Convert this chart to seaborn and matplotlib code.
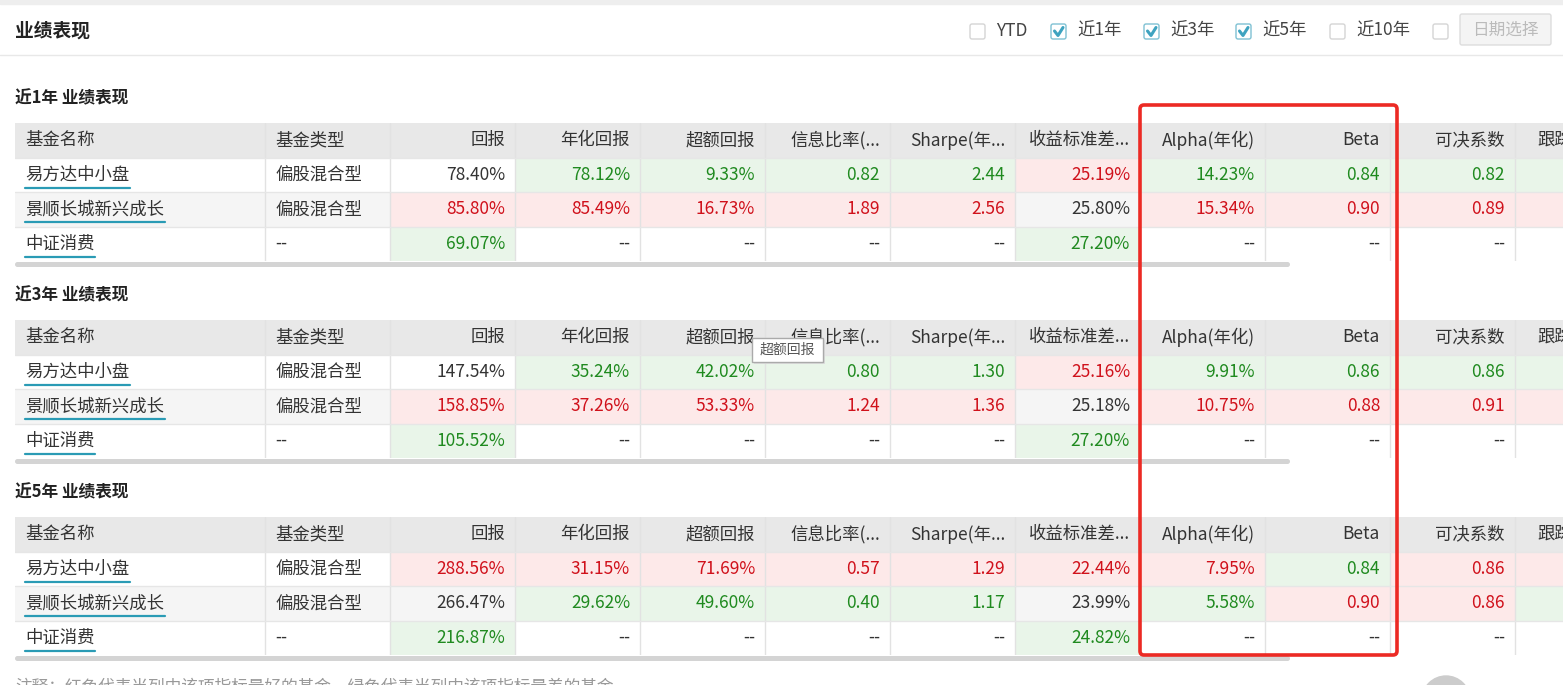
import numpy as np
import seaborn as sns
import matplotlib.pyplot as plt
from matplotlib.colors import ListedColormap
from matplotlib.patches import Rectangle, FancyBboxPatch

sns.set_theme(style="white")
plt.rcParams['font.family'] = ['Noto Sans CJK SC', 'DejaVu Sans']

# ---------------------------------------------------------------------------
# Data  (marks: g = green cell, r = red cell, n = neutral)
# ---------------------------------------------------------------------------
periods = ["近1年", "近3年", "近5年"]
fund_names = ["易方达中小盘", "景顺长城新兴成长", "中证消费"]
fund_types = ["偏股混合型", "偏股混合型", "--"]
columns = ["回报", "年化回报", "超额回报", "信息比率(...", "Sharpe(年...",
           "收益标准差...", "Alpha(年化)", "Beta", "可决系数", "跟踪误差"]

values_1y = [
    ["78.40%", "78.12%", "9.33%", "0.82", "2.44", "25.19%", "14.23%", "0.84", "0.82", ""],
    ["85.80%", "85.49%", "16.73%", "1.89", "2.56", "25.80%", "15.34%", "0.90", "0.89", ""],
    ["69.07%", "--", "--", "--", "--", "27.20%", "--", "--", "--", ""],
]
marks_1y = ["nggggrgggg", "rrrrrnrrrr", "gnnnngnnnn"]
values_3y = [
    ["147.54%", "35.24%", "42.02%", "0.80", "1.30", "25.16%", "9.91%", "0.86", "0.86", ""],
    ["158.85%", "37.26%", "53.33%", "1.24", "1.36", "25.18%", "10.75%", "0.88", "0.91", ""],
    ["105.52%", "--", "--", "--", "--", "27.20%", "--", "--", "--", ""],
]
marks_3y = ["nggggrgggg", "rrrrrnrrrr", "gnnnngnnnn"]
values_5y = [
    ["288.56%", "31.15%", "71.69%", "0.57", "1.29", "22.44%", "7.95%", "0.84", "0.86", ""],
    ["266.47%", "29.62%", "49.60%", "0.40", "1.17", "23.99%", "5.58%", "0.90", "0.86", ""],
    ["216.87%", "--", "--", "--", "--", "24.82%", "--", "--", "--", ""],
]
marks_5y = ["rrrrrrrgrr", "nggggngrrg", "gnnnngnnnn"]

tables = [(values_1y, marks_1y), (values_3y, marks_3y), (values_5y, marks_5y)]

checkboxes = [("YTD", False), ("近1年", True), ("近3年", True), ("近5年", True), ("近10年", False), ("", False)]

# ---------------------------------------------------------------------------
W, H = 1563, 685
fig = plt.figure(figsize=(W / 100, H / 100), dpi=100)
fig.patch.set_facecolor("white")

GREEN_BG, RED_BG, ROW2_BG, HEAD_BG = "#e9f5e9", "#fde9e9", "#f5f5f5", "#e8e8e8"
GREEN_TX, RED_TX, DARK_TX = "#1f8a1f", "#d0111b", "#333333"
cmap = ListedColormap(["white", ROW2_BG, GREEN_BG, RED_BG, HEAD_BG])
code = {"n": 0, "g": 2, "r": 3}

UNIT = 125
NUNITS = 13
table_tops = [123, 320, 517]
row_h = 34.5

for (vals, marks), top in zip(tables, table_tops):
    grid = np.zeros((4, NUNITS))
    grid[0, :] = 4
    for r in range(3):
        base = 1 if r == 1 else 0
        grid[r + 1, :3] = base
        for c in range(10):
            m = marks[r][c]
            grid[r + 1, 3 + c] = code[m] if m != "n" else base
    ax = fig.add_axes([15 / W, 1 - (top + 4 * row_h) / H, NUNITS * UNIT / W, 4 * row_h / H])
    sns.heatmap(grid, ax=ax, cmap=cmap, vmin=-0.5, vmax=4.5, cbar=False,
                xticklabels=False, yticklabels=False)
    # grid lines
    for b in [2, 3] + list(range(4, NUNITS)):
        ax.axvline(b, color="#e2e2e2", lw=1)
    for b in [1, 2, 3]:
        ax.axhline(b, color="#e6e6e6", lw=1)
    # header
    ax.text(0.08, 0.5, "基金名称", ha="left", va="center", fontsize=12.5, color=DARK_TX)
    ax.text(2.08, 0.5, "基金类型", ha="left", va="center", fontsize=12.5, color=DARK_TX)
    for c, name in enumerate(columns[:-1]):
        ax.text(4 + c - 0.08, 0.5, name, ha="right", va="center", fontsize=12.5, color=DARK_TX)
    ax.text(12.18, 0.5, columns[-1], ha="left", va="center", fontsize=12.5, color=DARK_TX)
    # rows
    for r in range(3):
        y = r + 1.5
        ax.text(0.08, y, fund_names[r], ha="left", va="center", fontsize=12.5, color=DARK_TX)
        ax.plot([0.08, 0.08 + len(fund_names[r]) * 17.5 / UNIT], [y + 0.38, y + 0.38],
                color="#2a9bb5", lw=1.6)
        ax.text(2.08, y, fund_types[r], ha="left", va="center", fontsize=12.5, color=DARK_TX)
        for c in range(9):
            m = marks[r][c]
            col = GREEN_TX if m == "g" else RED_TX if m == "r" else DARK_TX
            ax.text(4 + c - 0.08, y, vals[r][c], ha="right", va="center", fontsize=12.5, color=col)

# ---------------------------------------------------------------------------
# overlay
ov = fig.add_axes([0, 0, 1, 1], zorder=10)
ov.set_xlim(0, W)
ov.set_ylim(H, 0)
ov.axis("off")
ov.patch.set_alpha(0)

ov.add_patch(Rectangle((0, 0), W, 4, color="#eeeeee"))
ov.axhline(55, xmin=0, xmax=1, color="#e8e8e8", lw=1)
ov.text(15, 31, "业绩表现", fontsize=13.5, fontweight="bold", va="center", color="#222222")

xs = [970, 1051, 1144, 1236, 1330, 1433]
for (lab, chk), x in zip(checkboxes, xs):
    ov.add_patch(FancyBboxPatch((x, 24), 15, 15, boxstyle="round,pad=0,rounding_size=2",
                                fc="white", ec="#7fc1d3" if chk else "#d5d5d5", lw=1))
    if chk:
        ov.plot([x + 3.5, x + 7, x + 12], [31, 35.5, 27.5], color="#3ea3c0", lw=2.2)
    ov.text(x + 26, 31, lab, fontsize=12.5, va="center", color="#444444")
ov.add_patch(FancyBboxPatch((1460, 14), 91, 31, boxstyle="round,pad=0,rounding_size=2",
                            fc="#f4f4f4", ec="#dddddd", lw=1))
ov.text(1505, 30, "日期选择", fontsize=12, ha="center", va="center", color="#bbbbbb")

for p, top in zip(periods, table_tops):
    ov.text(15, top - 25, f"{p} 业绩表现", fontsize=12, fontweight="bold", va="center", color="#222222")
    ov.add_patch(FancyBboxPatch((15, top + 139), 1275, 5, boxstyle="round,pad=0,rounding_size=2.5",
                                fc="#d4d4d4", ec="none"))

# tooltip
ov.add_patch(Rectangle((754, 340), 71, 24, fc="#dddddd", ec="none"))
ov.add_patch(Rectangle((752, 338), 71, 24, fc="white", ec="#aaaaaa", lw=1))
ov.text(787, 350, "超额回报", fontsize=10, ha="center", va="center", color="#555555")

# highlight box
ov.add_patch(FancyBboxPatch((1140, 105), 257, 550, boxstyle="round,pad=0,rounding_size=4",
                            fc="none", ec="#ec2a24", lw=2.6))

ov.text(15, 688, "注释：红色代表当列中该项指标最好的基金，绿色代表当列中该项指标最差的基金",
        fontsize=12, va="center", color="#999999")
ov.add_patch(plt.Circle((1446, 700), 24, color="#cccccc"))

fig.savefig("out.png", dpi=100)
